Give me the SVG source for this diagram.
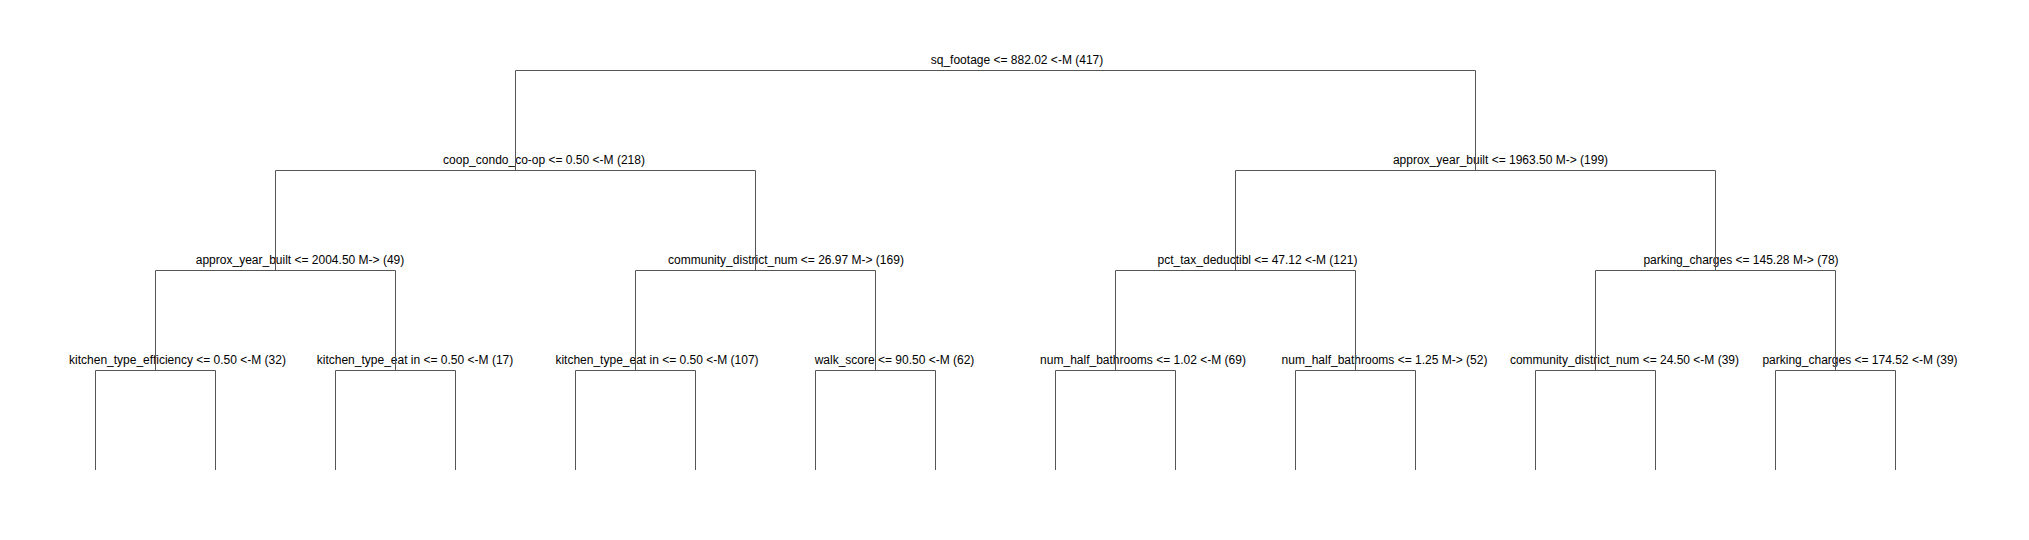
<svg xmlns="http://www.w3.org/2000/svg" width="2029" height="540" viewBox="0 0 2029 540">
<style>
.lbl{font-family:"Liberation Sans",Arial,sans-serif;font-size:12px;fill:#000;text-anchor:middle}
.br{fill:none;stroke:#555;stroke-width:1}
</style>
<rect width="2029" height="540" fill="#fff"/>
<g id="nodes">
<g id="n1"><text class="lbl" x="1017" y="64">sq_footage &lt;= 882.02 &lt;-M (417)</text></g>
<g id="n2"><text class="lbl" x="544" y="164">coop_condo_co-op &lt;= 0.50 &lt;-M (218)</text></g>
<g id="n3"><text class="lbl" x="1500.5" y="164">approx_year_built &lt;= 1963.50 M-&gt; (199)</text></g>
<g id="n4"><text class="lbl" x="300" y="264">approx_year_built &lt;= 2004.50 M-&gt; (49)</text></g>
<g id="n5"><text class="lbl" x="786" y="264">community_district_num &lt;= 26.97 M-&gt; (169)</text></g>
<g id="n6"><text class="lbl" x="1257.5" y="264">pct_tax_deductibl &lt;= 47.12 &lt;-M (121)</text></g>
<g id="n7"><text class="lbl" x="1741" y="264">parking_charges &lt;= 145.28 M-&gt; (78)</text></g>
<g id="n8"><text class="lbl" x="177.5" y="364">kitchen_type_efficiency &lt;= 0.50 &lt;-M (32)</text></g>
<g id="n9"><text class="lbl" x="415" y="364">kitchen_type_eat in &lt;= 0.50 &lt;-M (17)</text></g>
<g id="n10"><text class="lbl" x="657" y="364">kitchen_type_eat in &lt;= 0.50 &lt;-M (107)</text></g>
<g id="n11"><text class="lbl" x="894.5" y="364">walk_score &lt;= 90.50 &lt;-M (62)</text></g>
<g id="n12"><text class="lbl" x="1143" y="364">num_half_bathrooms &lt;= 1.02 &lt;-M (69)</text></g>
<g id="n13"><text class="lbl" x="1384.5" y="364">num_half_bathrooms &lt;= 1.25 M-&gt; (52)</text></g>
<g id="n14"><text class="lbl" x="1624.5" y="364">community_district_num &lt;= 24.50 &lt;-M (39)</text></g>
<g id="n15"><text class="lbl" x="1860" y="364">parking_charges &lt;= 174.52 &lt;-M (39)</text></g>
</g>
<g id="connectors" class="br">
<path class="br" d="M515.5 170.5V70.5H1475.5V170.5"/>
<path class="br" d="M275.5 270.5V170.5H755.5V270.5M1235.5 270.5V170.5H1715.5V270.5"/>
<path class="br" d="M155.5 370.5V270.5H395.5V370.5M635.5 370.5V270.5H875.5V370.5M1115.5 370.5V270.5H1355.5V370.5M1595.5 370.5V270.5H1835.5V370.5"/>
<path class="br" d="M95.5 470V370.5H215.5V470M335.5 470V370.5H455.5V470M575.5 470V370.5H695.5V470M815.5 470V370.5H935.5V470M1055.5 470V370.5H1175.5V470M1295.5 470V370.5H1415.5V470M1535.5 470V370.5H1655.5V470M1775.5 470V370.5H1895.5V470"/>
</g>
</svg>
